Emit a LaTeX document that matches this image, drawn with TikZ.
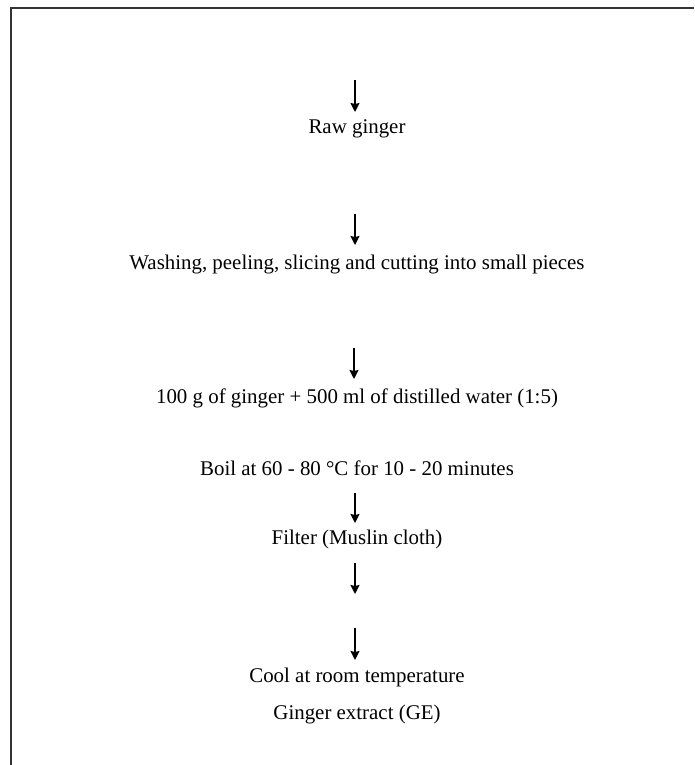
\documentclass[tikz,border=0pt]{standalone}
\usepackage{fontspec}
\setmainfont{Liberation Serif}
\usetikzlibrary{arrows.meta}
\tikzset{
  steptext/.style={anchor=base, inner sep=0pt, font=\fontsize{20.9}{24}\selectfont},
  flowarrow/.style={line width=1.6pt, -{Stealth[length=9pt,width=9pt,inset=1pt]}},
  frameline/.style={line width=1.2pt, draw=black!80}
}
\begin{document}
\begin{tikzpicture}[x=1pt,y=-1pt]
\useasboundingbox (0,0) rectangle (694,765);
\draw[frameline] (694,8) -- (11,8) -- (11,765);
% arrow coordinates
\coordinate (a1s) at (355,80);  \coordinate (a1e) at (355,112);
\coordinate (a2s) at (355,214); \coordinate (a2e) at (355,245);
\coordinate (a3s) at (354,348); \coordinate (a3e) at (354,379);
\coordinate (a4s) at (355,493); \coordinate (a4e) at (355,523);
\coordinate (a5s) at (355,563); \coordinate (a5e) at (355,594);
\coordinate (a6s) at (355,628); \coordinate (a6e) at (355,660);
% texts
\node[steptext] (raw) at (357,134) {Raw ginger};
\node[steptext] (wash) at (357,269) {Washing, peeling, slicing and cutting into small pieces};
\node[steptext] (mix) at (357,403) {100 g of ginger + 500 ml of distilled water (1:5)};
\node[steptext] (boil) at (357,475) {Boil at 60 - 80 °C for 10 - 20 minutes};
\node[steptext] (filt) at (357,544) {Filter (Muslin cloth)};
\node[steptext] (cool) at (357,682) {Cool at room temperature};
\node[steptext] (ge) at (357,719) {Ginger extract (GE)};
% arrows
\draw[flowarrow] (a1s) -- (a1e);
\draw[flowarrow] (a2s) -- (a2e);
\draw[flowarrow] (a3s) -- (a3e);
\draw[flowarrow] (a4s) -- (a4e);
\draw[flowarrow] (a5s) -- (a5e);
\draw[flowarrow] (a6s) -- (a6e);
\end{tikzpicture}
\end{document}
